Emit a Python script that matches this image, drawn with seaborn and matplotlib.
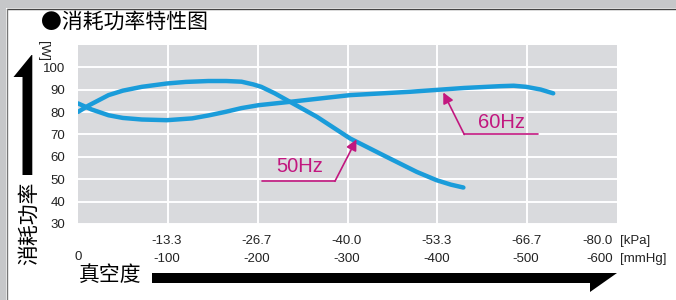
import matplotlib
matplotlib.use('Agg')
import matplotlib.pyplot as plt
import matplotlib.transforms as mtransforms
from matplotlib.patches import Rectangle, Polygon
from matplotlib.lines import Line2D
import pandas as pd
import seaborn as sns

# Power consumption curves (vacuum in mmHg, power in W).
vac_50hz = [0, -12, -34, -50, -71, -99, -120, -145, -165, -182, -195, -204, -219, -236,
            -266, -303, -340, -377, -399, -415, -429]
watt_50hz = [80.1, 83.0, 87.6, 89.6, 91.3, 92.8, 93.5, 93.9, 93.9, 93.6, 92.4, 91.3, 88.4, 84.6,
             77.9, 68.2, 60.7, 53.3, 49.6, 47.6, 46.3]
vac_60hz = [0, -15, -34, -50, -71, -99, -127, -145, -164, -182, -201, -236, -303, -370,
            -430, -470, -485, -499, -515, -529]
watt_60hz = [83.9, 81.2, 78.6, 77.4, 76.7, 76.4, 77.2, 78.5, 80.1, 81.8, 83.1, 84.6, 87.6, 89.1,
             90.8, 91.6, 91.8, 91.3, 90.1, 88.4]

# Axis tick labels.
y_ticks = [30, 40, 50, 60, 70, 80, 90, 100]
mmhg_ticks = [-100, -200, -300, -400, -500, -600]
kpa_labels = ['-13.3', '-26.7', '-40.0', '-53.3', '-66.7', '-80.0']
mmhg_labels = ['-100', '-200', '-300', '-400', '-500', '-600']

df_50 = pd.DataFrame({'vacuum': vac_50hz, 'power': watt_50hz})
df_60 = pd.DataFrame({'vacuum': vac_60hz, 'power': watt_60hz})

blue = '#1a9cda'
magenta = '#c2177f'

sns.set_style('white', {'axes.facecolor': '#d9dadd'})
plt.rcParams['font.family'] = ['Liberation Sans', 'DejaVu Sans']
cjk = ['Noto Sans CJK SC', 'DejaVu Sans']

fig = plt.figure(figsize=(6.76, 3.0), dpi=100)
fig.patch.set_facecolor('white')
ax = fig.add_axes([78 / 676, 1 - 224 / 300, 539 / 676, 179 / 300])

sns.lineplot(x='vacuum', y='power', data=df_50, sort=False, color=blue, lw=3.2, ax=ax,
             solid_joinstyle='round', solid_capstyle='round')
sns.lineplot(x='vacuum', y='power', data=df_60, sort=False, color=blue, lw=3.2, ax=ax,
             solid_joinstyle='round', solid_capstyle='round')

ax.set_xlim(0, -600)
ax.set_ylim(30, 110)
ax.set_xticks(mmhg_ticks[:-1])
ax.set_xticklabels([])
ax.set_yticks(y_ticks)
ax.set_yticklabels([str(v) for v in y_ticks], fontsize=9.5, color='#222222')
ax.tick_params(length=0, pad=9)
ax.grid(True, color='white', lw=1.4)
ax.set_axisbelow(True)
ax.set_xlabel('')
ax.set_ylabel('')
for s in ax.spines.values():
    s.set_visible(False)

# Two rows of x labels: kPa on top, mmHg below.
trans = mtransforms.blended_transform_factory(ax.transData, ax.transAxes)
for x, k, m in zip(mmhg_ticks, kpa_labels, mmhg_labels):
    dx = -4 if x == -600 else -1
    ha = 'right' if x == -600 else 'center'
    ax.annotate(k, xy=(x, -0.095), xycoords=trans, xytext=(dx, 0), textcoords='offset pixels',
                ha=ha, va='center', fontsize=9.5, color='#222222', annotation_clip=False)
    ax.annotate(m, xy=(x, -0.197), xycoords=trans, xytext=(dx, 0), textcoords='offset pixels',
                ha=ha, va='center', fontsize=9.5, color='#222222', annotation_clip=False)
ax.annotate('0', xy=(0, -0.184), xycoords=trans, ha='center', va='center',
            fontsize=9.5, color='#222222', annotation_clip=False)
ax.annotate('[kPa]', xy=(-600, -0.095), xycoords=trans, xytext=(3, 0), textcoords='offset pixels',
            ha='left', va='center', fontsize=9.5, color='#222222', annotation_clip=False)
ax.annotate('[mmHg]', xy=(-600, -0.197), xycoords=trans, xytext=(3, 0), textcoords='offset pixels',
            ha='left', va='center', fontsize=9.5, color='#222222', annotation_clip=False)

# Frequency callouts.
ax.plot([-204.5, -286], [49.1, 49.1], color=magenta, lw=1.2)
ax.annotate('', xy=(-310, 67.8), xytext=(-286, 49.1),
            arrowprops=dict(arrowstyle='-|>', color=magenta, lw=1.2, mutation_scale=16, shrinkA=0, shrinkB=0))
ax.text(-247, 55.8, '50Hz', color=magenta, fontsize=14.5, ha='center', va='center')

ax.plot([-430, -512.4], [70.0, 70.0], color=magenta, lw=1.2)
ax.annotate('', xy=(-406.6, 88.8), xytext=(-430, 70.0),
            arrowprops=dict(arrowstyle='-|>', color=magenta, lw=1.2, mutation_scale=16, shrinkA=0, shrinkB=0))
ax.text(-471, 75.5, '60Hz', color=magenta, fontsize=14.5, ha='center', va='center')


def px(x, y):
    return (x / 676, 1 - y / 300)


# Gray frame on the top and left edges.
fig.add_artist(Rectangle((0, 1 - 8 / 300), 1, 8 / 300, transform=fig.transFigure,
                         facecolor='#c6c7c9', edgecolor='none'))
fig.add_artist(Rectangle((0, 0), 6 / 676, 1, transform=fig.transFigure,
                         facecolor='#c6c7c9', edgecolor='none'))
fig.add_artist(Line2D([6.5 / 676, 1], [1 - 8.5 / 300, 1 - 8.5 / 300], transform=fig.transFigure,
                      color='#444444', lw=1))
fig.add_artist(Line2D([6.5 / 676, 6.5 / 676], [0, 1 - 8.5 / 300], transform=fig.transFigure,
                      color='#777777', lw=1))

# Big black arrows along both axes.
up_arrow = [px(22.5, 175), px(22.5, 77), px(13.5, 77), px(31.5, 55), px(32.3, 55), px(32.3, 175)]
fig.add_artist(Polygon(up_arrow, closed=True, transform=fig.transFigure, facecolor='black', edgecolor='none'))
right_arrow = [px(152, 273), px(617, 273), px(590, 292), px(590, 283), px(152, 283)]
fig.add_artist(Polygon(right_arrow, closed=True, transform=fig.transFigure, facecolor='black', edgecolor='none'))

fig.text(41 / 676, 1 - 22 / 300, '●消耗功率特性图', fontsize=15, family=cjk, weight='medium',
         ha='left', va='center', color='black')
fig.text(29 / 676, 1 - 223.5 / 300, '消耗功率', rotation=90, fontsize=15, family=cjk, weight='medium',
         ha='center', va='center', color='black')
fig.text(110 / 676, 1 - 275 / 300, '真空度', fontsize=15, family=cjk, weight='medium',
         ha='center', va='center', color='black')
fig.text(42.7 / 676, 1 - 51.3 / 300, '[W]', rotation=270, fontsize=9.5,
         ha='center', va='center', color='#222222')

plt.savefig('out.png', dpi=100)
